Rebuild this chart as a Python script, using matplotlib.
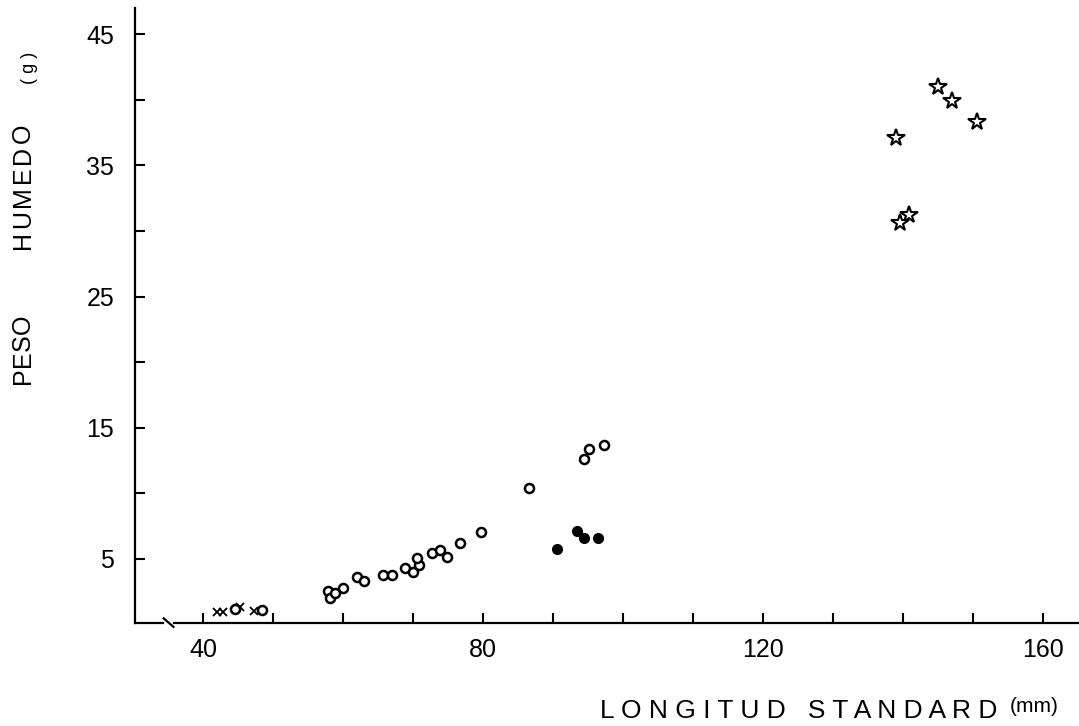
import matplotlib
matplotlib.use("Agg")
import matplotlib.pyplot as plt
import numpy as np

plt.rcParams['font.family'] = ['Liberation Sans', 'DejaVu Sans']

# crosses (x)
cross_x = [42.0, 42.9, 45.3, 47.3]
cross_y = [0.95, 0.95, 1.3, 1.05]

# open circles
open_x = [44.6, 48.4, 57.9, 58.1, 58.9, 60.0, 62.0, 63.0, 65.7, 67.0, 68.9, 70.0,
          70.8, 70.6, 72.7, 73.9, 74.8, 76.7, 79.7, 86.6, 94.4, 95.2, 97.3]
open_y = [1.2, 1.1, 2.56, 2.0, 2.38, 2.76, 3.57, 3.27, 3.73, 3.78, 4.29, 3.98,
          4.49, 5.05, 5.43, 5.69, 5.13, 6.2, 7.04, 10.42, 12.58, 13.37, 13.68]

# filled circles
fill_x = [90.5, 93.4, 94.4, 96.4]
fill_y = [5.74, 7.14, 6.58, 6.58]

# stars
star_x = [144.9, 146.95, 150.5, 139.0, 140.8, 139.6]
star_y = [40.98, 39.9, 38.3, 37.06, 31.18, 30.6]

xlo, xhi = 30.3, 165.1
ylo, yhi = 0.1, 47.0

W, H = 1079, 726
fig = plt.figure(figsize=[W / 100, H / 100], dpi=100)
ax = fig.add_axes([0.1251, 0.1419, 0.8749, 0.847])

ax.plot(cross_x, cross_y, ls='none', marker='x', ms=6, mew=1.3, color='black')
ax.plot(open_x, open_y, ls='none', marker='o', ms=6.5, mew=1.8,
        mfc='white', mec='black')
ax.plot(fill_x, fill_y, ls='none', marker='o', ms=7, color='black')
ax.plot(star_x, star_y, ls='none', marker='*', ms=13, mew=1.5,
        mfc='white', mec='black')

ax.set_xlim(xlo, xhi)
ax.set_ylim(ylo, yhi)

for s in ['top', 'right', 'bottom']:
    ax.spines[s].set_visible(False)
ax.spines['left'].set_linewidth(1.6)

# broken x axis line
ax.plot([xlo, 34.3], [ylo, ylo], color='black', lw=1.6, clip_on=False)
ax.plot([34.4, 35.8], [ylo + 0.35, ylo - 0.3], color='black', lw=1.6, clip_on=False)
ax.plot([35.9, xhi], [ylo, ylo], color='black', lw=1.6, clip_on=False)

ax.set_xticks(np.arange(40, 161, 10))
ax.set_xticklabels([str(v) if v % 40 == 0 else '' for v in range(40, 161, 10)])
ax.set_yticks(np.arange(5, 46, 5))
ax.set_yticklabels([str(v) if v % 10 == 5 else '' for v in range(5, 46, 5)])
ax.tick_params(direction='in', length=7, width=1.5, labelsize=18, pad=11)
ax.tick_params(axis='y', pad=15)

renderer = fig.canvas.get_renderer()


def spaced_vertical(word, x_px, y_bottom_px, gap, size):
    # letters stacked upwards, rotated 90, y measured from top of image
    y = H - y_bottom_px
    for ch in word:
        t = fig.text(x_px / W, y / H, ch, fontsize=size, rotation=90,
                     ha='center', va='bottom')
        h = t.get_window_extent(renderer).height
        y += h + gap


fig.text(600 / W, 0.011, "L O N G I T U D   S T A N D A R D", fontsize=19, ha='left')
fig.text(1010 / W, 1 - 712 / H, "(mm)", fontsize=15, ha='left')

spaced_vertical("PESO", 23, 384, 0, 18)
spaced_vertical("HUMEDO", 23, 249, 3, 18)
fig.text(30 / W, 1 - 68 / H, "( g )", fontsize=13, rotation=90,
         ha='center', va='center')

fig.savefig("out.png", dpi=100)
